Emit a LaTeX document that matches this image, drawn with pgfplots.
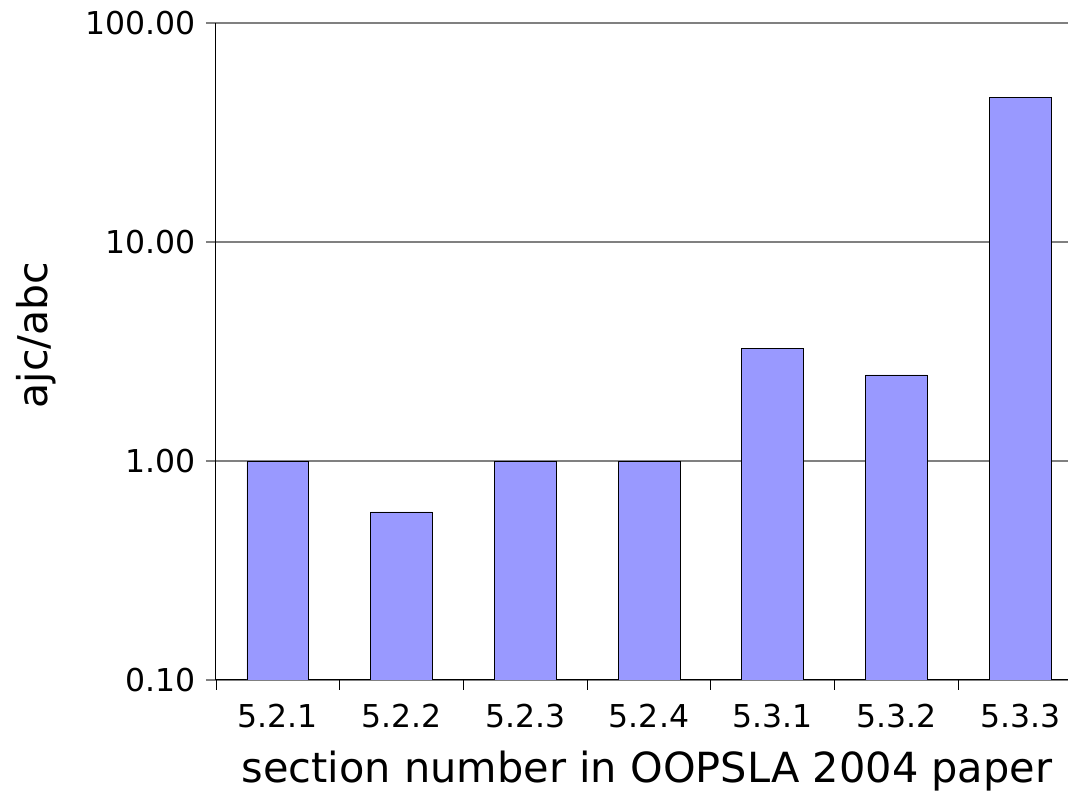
\documentclass[border=0pt]{standalone}
\usepackage{pgfplots}
\pgfplotsset{compat=1.18}
\usepackage{fontspec}
\setmainfont{DejaVu Sans}
\definecolor{barblue}{HTML}{9999FF}
\begin{document}
\begin{tikzpicture}
\begin{axis}[
  scale only axis, width=866pt, height=657pt,
  ymode=log, ymin=0.1, ymax=100, log origin y=infty,
  xmin=-0.5, xmax=6.5,
  axis x line*=bottom, axis y line*=left,
  axis line style={-, black, line width=1pt},
  ybar, bar width=0.5,
  xtick={-0.5,0.5,1.5,2.5,3.5,4.5,5.5,6.5},
  xticklabels={5.2.1,5.2.2,5.2.3,5.2.4,5.3.1,5.3.2,5.3.3,{}},
  xticklabel style={anchor=base, xshift=61.86pt, yshift=-38pt, font=\fontsize{31.5}{36}\selectfont},
  x tick style={black, line width=0.8pt},
  tick align=outside, major tick length=10pt,
  ytick={0.1,1,10,100}, yticklabels={0.10,1.00,10.00,100.00},
  yticklabel style={anchor=east, inner sep=0pt, xshift=-10pt, font=\fontsize{31.5}{36}\selectfont},
  y tick style={gray, line width=1.3pt},
  minor y tick num=0, yminorticks=false,
  ymajorgrids, major grid style={gray, line width=1.3pt},
  xlabel={section number in OOPSLA 2004 paper},
  ylabel={ajc/abc},
  xlabel style={at={(axis description cs:0.4977,-0.1553)}, anchor=base, font=\fontsize{41.5}{50}\selectfont},
  ylabel style={at={(axis description cs:-0.2079,0.525)}, anchor=center, font=\fontsize{41}{50}\selectfont},
]
\addplot[ybar, bar shift=0pt, fill=barblue, draw=black, line width=0.8pt] coordinates {
  (0,1.00) (1,0.585) (2,1.00) (3,1.00) (4,3.25) (5,2.47) (6,45.9)
};
\end{axis}
\pgfresetboundingbox
\path[use as bounding box] (-216pt,-114pt) rectangle (852pt,680pt);
\end{tikzpicture}
\end{document}
